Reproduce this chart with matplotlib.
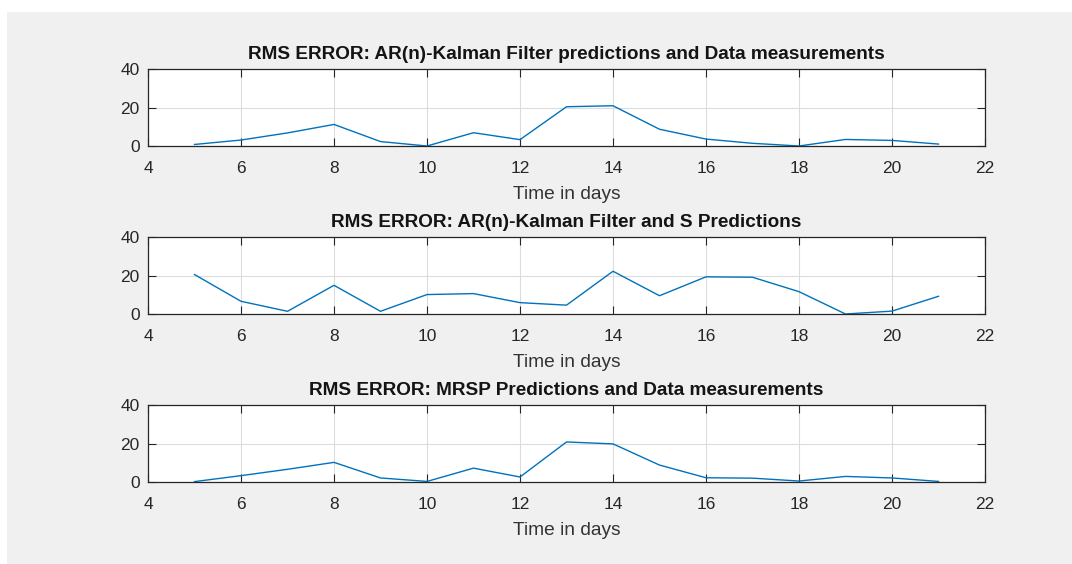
import matplotlib
matplotlib.use("Agg")
from matplotlib import pyplot as plt
from matplotlib.patches import Rectangle

plt.rcParams['font.family'] = ['Liberation Sans', 'DejaVu Sans']

# days on the x axis
days = [5, 6, 7, 8, 9, 10, 11, 12, 13, 14, 15, 16, 17, 18, 19, 20, 21]

# RMS error series
rms_kalman_data = [0.8, 3.1, 6.8, 11.2, 2.3, 0.0, 6.9, 3.3, 20.4, 20.9, 8.7,
                   3.6, 1.4, 0.0, 3.4, 2.9, 1.0]
rms_kalman_s = [20.5, 6.6, 1.4, 14.9, 1.4, 10.1, 10.6, 5.9, 4.6, 22.2, 9.5,
                19.3, 19.1, 11.6, 0.0, 1.5, 9.2]
rms_mrsp_data = [0.2, 3.3, 6.6, 10.2, 2.1, 0.3, 7.2, 2.6, 20.8, 19.8, 8.8,
                 2.2, 2.0, 0.5, 2.9, 2.1, 0.3]

titles = ['RMS ERROR: AR(n)-Kalman Filter predictions and Data measurements',
          'RMS ERROR: AR(n)-Kalman Filter and S Predictions',
          'RMS ERROR: MRSP Predictions and Data measurements']
series = [rms_kalman_data, rms_kalman_s, rms_mrsp_data]

xticks = [4, 6, 8, 10, 12, 14, 16, 18, 20, 22]
yticks = [0, 20, 40]

W, H = 1072, 564
fig = plt.figure(figsize=(W / 100, H / 100), dpi=100, facecolor='white')

# gray MATLAB figure area, kept behind the axes
fig.patches.append(Rectangle((7 / W, 0), 1 - 7 / W, 1 - 12 / H,
                             transform=fig.transFigure, facecolor='#f0f0f0',
                             edgecolor='none', zorder=-10))

left = 148 / W
width = (985 - 148) / W
tops = [69, 237, 405]
h_px = 77

for top, ys, ttl in zip(tops, series, titles):
    ax = fig.add_axes([left, 1 - (top + h_px) / H, width, h_px / H])
    ax.plot(days, ys, color='#0072BD', linewidth=1.0)
    ax.set_xlim(4, 22)
    ax.set_ylim(0, 40)
    ax.set_xticks(xticks)
    ax.set_yticks(yticks)
    ax.grid(True, color='#dcdcdc', linewidth=0.8)
    ax.set_axisbelow(True)
    ax.tick_params(direction='in', top=True, right=True, length=6,
                   width=0.8, colors='#262626', labelsize=12.5)
    ax.tick_params(axis='x', pad=11)
    ax.tick_params(axis='y', pad=6)
    for sp in ax.spines.values():
        sp.set_color('#262626')
        sp.set_linewidth(0.9)
    ax.set_title(ttl, fontsize=13.7, fontweight='bold', color='#141414', pad=7)
    ax.set_xlabel('Time in days', fontsize=13.8, color='#333333', labelpad=7)

fig.savefig('out.png', dpi=100, facecolor='white')
